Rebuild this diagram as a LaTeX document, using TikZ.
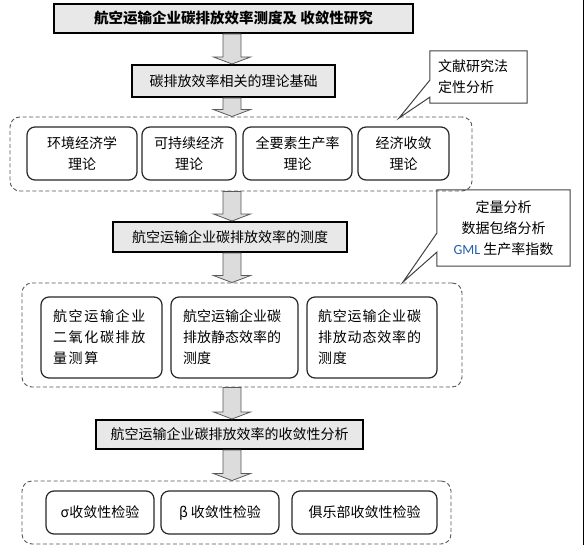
\documentclass[tikz,border=0pt]{standalone}
\usepackage{fontspec}
\setmainfont{Noto Sans CJK SC}
\newfontfamily\widecjk[LetterSpace=12]{Noto Sans CJK SC}
\newfontfamily\midcjk[LetterSpace=6]{Noto Sans CJK SC}
\newfontfamily\latinfont{Carlito}
\usepackage{xcolor}
\usepackage{tikz}
\usetikzlibrary{calc}

\definecolor{boxgray}{HTML}{E8E8E8}
\definecolor{arrowgray}{HTML}{DCDCDC}
\definecolor{dashgray}{HTML}{555555}
\definecolor{gmlblue}{HTML}{1F5FAF}

\begin{document}
\begin{tikzpicture}[x=1pt,y=-1pt,
    font=\fontsize{14}{21}\selectfont,
    mainbox/.style={draw, line width=2pt, fill=boxgray, inner sep=0pt},
    itembox/.style={draw=black!85, line width=1.2pt, rounded corners=8pt, inner sep=0pt},
    groupbox/.style={draw=dashgray, dash pattern=on 4pt off 2.5pt, line width=0.9pt, rounded corners=10pt, inner sep=0pt},
    notebox/.style={inner sep=0pt},
    noteline/.style={draw=black!75, line width=1pt, line join=miter},
    blockarrow/.style={draw=black!65, fill=arrowgray, line width=0.8pt,
      to path={let \p1=(\tikztostart), \p2=(\tikztotarget) in
        (\x1-9pt,\y1) -- (\x1-9pt,\y2+7pt) -- (\x1-18.5pt,\y2+7pt) -- (\x1,\y2)
        -- (\x1+18.5pt,\y2+7pt) -- (\x1+9pt,\y2+7pt) -- (\x1+9pt,\y1) -- cycle}}]
        \useasboundingbox (0,0) rectangle (585,545);
        \coordinate (axis) at (232,0);
        \coordinate (tip1) at (399,118);
        \coordinate (tip2) at (403,282);

        % main steps
        \node[mainbox, minimum width=359pt, minimum height=29pt, font=\fontsize{14.5}{17}\selectfont\bfseries] (title) at (233.5,18.5) {航空运输企业碳排放效率测度及 收敛性研究};
        \node[mainbox, minimum width=203pt, minimum height=32pt] (basis) at (233.5,81) {碳排放效率相关的理论基础};
        \node[mainbox, minimum width=234pt, minimum height=30pt] (measure) at (230,237) {航空运输企业碳排放效率的测度};
        \node[mainbox, minimum width=267pt, minimum height=29pt] (conv) at (229.5,434.5) {航空运输企业碳排放效率的收敛性分析};

        % theory group
        \node[groupbox, minimum width=462pt, minimum height=74pt] (g1) at (241,154) {};
        \node[itembox, minimum width=110pt, minimum height=53pt, align=center] (t1) at (82,153.5) {环境经济学\\理论};
        \node[itembox, minimum width=94pt, minimum height=53pt, align=center] (t2) at (189,153.5) {可持续经济\\理论};
        \node[itembox, minimum width=109pt, minimum height=53pt, align=center] (t3) at (297.5,153.5) {全要素生产率\\理论};
        \node[itembox, minimum width=91pt, minimum height=53pt, align=center] (t4) at (403.5,153.5) {经济收敛\\理论};

        % measurement group
        \node[groupbox, minimum width=440pt, minimum height=104pt] (g2) at (242,335) {};
        \node[itembox, minimum width=121pt, minimum height=81pt, text width=97pt, align=left] (m1) at (101.5,337.5) {\widecjk 航空运输企业\\二氧化碳排放\\量测算};
        \node[itembox, minimum width=127pt, minimum height=81pt, text width=103pt, align=left] (m2) at (234.5,337.5) {航空运输企业碳\\排放静态效率的\\测度};
        \node[itembox, minimum width=130pt, minimum height=81pt, text width=108pt, align=left] (m3) at (372,337.5) {\midcjk 航空运输企业碳\\排放动态效率的\\测度};

        % convergence group
        \node[groupbox, minimum width=429pt, minimum height=63pt] (g3) at (236.5,512.5) {};
        \node[itembox, minimum width=108pt, minimum height=43pt] (c1) at (100,512.5) {σ收敛性检验};
        \node[itembox, minimum width=118pt, minimum height=43pt] (c2) at (220,512.5) {β 收敛性检验};
        \node[itembox, minimum width=145pt, minimum height=43pt] (c3) at (364.5,512.5) {俱乐部收敛性检验};

        % method notes, open on the left where the pointer leaves
        \node[notebox, minimum width=97pt, minimum height=52pt, text width=81pt, align=left] (note1) at (478.5,77) {文献研究法\\定性分析};
        \draw[noteline] (note1.north west) -- (note1.north east) -- (note1.south east) -- (note1.south west)
            -- ([yshift=6pt]note1.south west) -- (tip1) -- ([yshift=23pt]note1.south west) -- cycle;
        \node[notebox, minimum width=133pt, minimum height=76pt, align=center] (note2) at (503.5,228) {定量分析\\数据包络分析\\{\latinfont\color{gmlblue}GML} 生产率指数};
        \draw[noteline] (note2.north west) -- (note2.north east) -- (note2.south east) -- (note2.south west)
            -- ([yshift=14pt]note2.south west) -- (tip2) -- ([yshift=33pt]note2.south west) -- cycle;

        \draw[blockarrow] (title.south -| axis) to (basis.north);
        \draw[blockarrow] (basis.south -| axis) to (g1.north);
        \draw[blockarrow] (g1.south -| axis) to (measure.north);
        \draw[blockarrow] (measure.south -| axis) to (g2.north);
        \draw[blockarrow] (g2.south -| axis) to (conv.north);
        \draw[blockarrow] (conv.south -| axis) to (g3.north);

        \draw[line width=0.8pt] (583,0) -- (583,545);
    \end{tikzpicture}
\end{document}
